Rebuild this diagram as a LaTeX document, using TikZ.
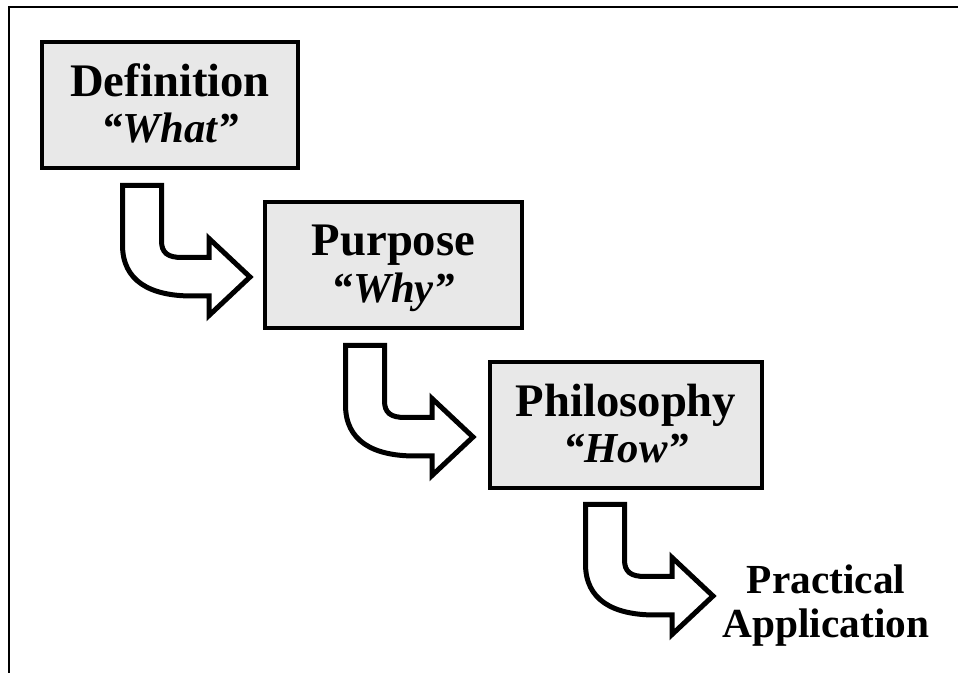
\documentclass[tikz,border=0pt]{standalone}
\usepackage{fontspec}
\setmainfont{Liberation Serif}
\usetikzlibrary{calc}
\definecolor{boxgray}{RGB}{232,232,232}
\begin{document}
\begin{tikzpicture}[x=0.75pt,y=-0.75pt,
  box/.style={draw=black, line width=3pt, fill=boxgray, inner sep=0pt, minimum height=94.5pt},
  titletext/.style={font=\fontsize{35}{42}\selectfont\bfseries, anchor=base, inner sep=0pt},
  subtext/.style={font=\fontsize{32}{38}\selectfont\bfseries\itshape, anchor=base, inner sep=0pt},
  patext/.style={font=\fontsize{31}{37}\selectfont\bfseries, anchor=base, inner sep=0pt},
  frameline/.style={draw=black, line width=1.7pt},
  arrowstyle/.style={draw=black, fill=white, line width=3.75pt, line join=miter},
  blockarrow/.pic={
    \path[arrowstyle] (2.5,2.5) -- (41.5,2.5) -- (41.5,58)
      .. controls (41.5,70) and (48,74.5) .. (62,74.5) -- (89,74.5) -- (89,55.5)
      -- (130,94) -- (89,132.5) -- (89,113) -- (72,113)
      .. controls (30,113) and (2.5,98) .. (2.5,62) -- cycle;
  }]
\useasboundingbox (0,0) rectangle (958,673);
% frame
\coordinate (fa) at (9,673);
\coordinate (fb) at (9,7);
\coordinate (fc) at (958,7);
\draw[frameline] (fa) -- (fb) -- (fc);
% boxes
\node[box, minimum width=192pt] (b1) at (170,105) {};
\node[box, minimum width=192.75pt] (b2) at (393.5,265) {};
\node[box, minimum width=204pt] (b3) at (626,425) {};
% texts
\node[titletext] (t1) at (170,97) {Definition};
\node[subtext] (s1) at (170,143) {“What”};
\node[titletext] (t2) at (393.5,256) {Purpose};
\node[subtext] (s2) at (393.5,303) {“Why”};
\node[titletext] (t3) at (626,417) {Philosophy};
\node[subtext] (s3) at (626,463) {“How”};
\node[patext] (pa1) at (826,594) {Practical};
\node[patext] (pa2) at (826,638) {Application};
% block arrows
\pic (a1) at ($(b1.south west)+(80,13)$) {blockarrow};
\pic (a2) at ($(b2.south west)+(80,13)$) {blockarrow};
\pic (a3) at ($(b3.south west)+(95,12)$) {blockarrow};
\end{tikzpicture}
\end{document}
